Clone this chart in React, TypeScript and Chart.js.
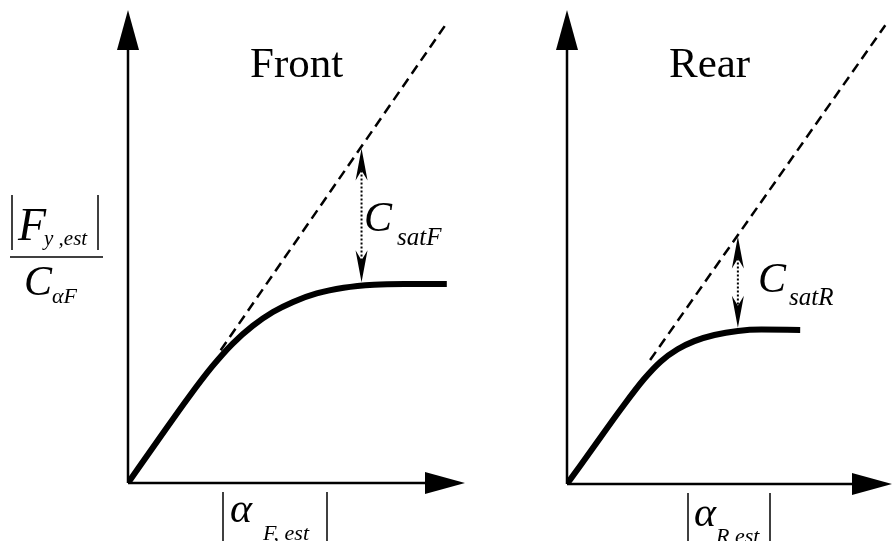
import React, { useEffect, useRef } from "react";
import { Chart, registerables } from "chart.js";

Chart.register(...registerables);

const W = 894;
const H = 541;
const SERIF = '"Liberation Serif", "DejaVu Serif", serif';

// Front tyre: |slip angle| against normalised |lateral force|
const frontSlip = [0, 0.9, 1.8, 2.5, 3.1, 3.7, 4.3, 4.9, 5.6, 6.4, 7.3, 8.2, 9.46];
const frontForce = [0, 1.28, 2.54, 3.45, 4.12, 4.65, 5.06, 5.36, 5.61, 5.78, 5.87, 5.89, 5.89];
// linear (cornering-stiffness) extension
const frontLinearSlip = [2.75, 9.45];
const frontLinearForce = [3.93, 13.6];
// saturation gap: slip, curve value, linear value
const frontSat = [6.93, 5.85, 9.9];

// Rear tyre
const rearSlip = [0, 0.8, 1.6, 2.3, 2.8, 3.3, 3.8, 4.4, 5.1, 5.8, 6.96];
const rearForce = [0, 1.1, 2.2, 3.1, 3.62, 3.98, 4.22, 4.4, 4.52, 4.56, 4.55];
const rearLinearSlip = [2.48, 9.5];
const rearLinearForce = [3.66, 13.55];
const rearSat = [5.1, 4.53, 7.31];

type Part = { text: string; x: number; y: number; size: number; italic?: boolean };
type Bar = { x: number; y1: number; y2: number };
type Rule = { x1: number; x2: number; y: number };

type PanelDecor = {
  sat: number[];
  parts: Part[];
  bars: Bar[];
  rules: Rule[];
};

function drawText(ctx: CanvasRenderingContext2D, p: Part) {
  ctx.font = `${p.italic ? "italic " : ""}${p.size}px ${SERIF}`;
  ctx.fillStyle = "#000";
  ctx.textAlign = "left";
  ctx.textBaseline = "alphabetic";
  ctx.fillText(p.text, p.x, p.y);
}

function stealthHead(ctx: CanvasRenderingContext2D, x: number, tip: number, dir: number) {
  // dir = +1: head points up (body below tip), -1: head points down
  ctx.beginPath();
  ctx.moveTo(x, tip);
  ctx.lineTo(x + 6, tip + dir * 32);
  ctx.lineTo(x, tip + dir * 22);
  ctx.lineTo(x - 6, tip + dir * 32);
  ctx.closePath();
  ctx.fill();
}

function makePlugin(decor: PanelDecor) {
  return {
    id: "panelDecor",
    beforeDatasetsDraw(chart: any) {
      const ctx: CanvasRenderingContext2D = chart.ctx;
      const { chartArea } = chart;
      const xs = chart.scales.x;
      const ys = chart.scales.y;
      const ox = xs.getPixelForValue(0);
      const oy = ys.getPixelForValue(0);
      ctx.save();
      ctx.strokeStyle = "#000";
      ctx.fillStyle = "#000";
      ctx.lineWidth = 2.5;
      // vertical axis
      ctx.beginPath();
      ctx.moveTo(ox, oy);
      ctx.lineTo(ox, chartArea.top + 38);
      ctx.stroke();
      ctx.beginPath();
      ctx.moveTo(ox, chartArea.top);
      ctx.lineTo(ox + 11, chartArea.top + 40);
      ctx.lineTo(ox - 11, chartArea.top + 40);
      ctx.closePath();
      ctx.fill();
      // horizontal axis
      ctx.beginPath();
      ctx.moveTo(ox, oy);
      ctx.lineTo(chartArea.right - 38, oy);
      ctx.stroke();
      ctx.beginPath();
      ctx.moveTo(chartArea.right, oy);
      ctx.lineTo(chartArea.right - 40, oy - 11);
      ctx.lineTo(chartArea.right - 40, oy + 11);
      ctx.closePath();
      ctx.fill();
      ctx.restore();
    },
    afterDatasetsDraw(chart: any) {
      const ctx: CanvasRenderingContext2D = chart.ctx;
      const xs = chart.scales.x;
      const ys = chart.scales.y;
      ctx.save();
      // saturation gap arrow
      const [sx, from, to] = decor.sat;
      const px = xs.getPixelForValue(sx);
      const yTop = ys.getPixelForValue(to);
      const yBot = ys.getPixelForValue(from) - 3;
      ctx.strokeStyle = "#000";
      ctx.fillStyle = "#000";
      ctx.lineWidth = 2;
      ctx.setLineDash([2, 2]);
      ctx.beginPath();
      ctx.moveTo(px, yTop + 22);
      ctx.lineTo(px, yBot - 22);
      ctx.stroke();
      ctx.setLineDash([]);
      stealthHead(ctx, px, yTop, 1);
      stealthHead(ctx, px, yBot, -1);
      // absolute-value bars and fraction rules
      ctx.lineWidth = 1.5;
      decor.bars.forEach((b) => {
        ctx.beginPath();
        ctx.moveTo(b.x, b.y1);
        ctx.lineTo(b.x, b.y2);
        ctx.stroke();
      });
      decor.rules.forEach((r) => {
        ctx.beginPath();
        ctx.moveTo(r.x1, r.y);
        ctx.lineTo(r.x2, r.y);
        ctx.stroke();
      });
      decor.parts.forEach((p) => drawText(ctx, p));
      ctx.restore();
    },
  };
}

function toPoints(xs: number[], ys: number[]) {
  return xs.map((x, i) => ({ x, y: ys[i] }));
}

function buildConfig(
  slip: number[],
  force: number[],
  linSlip: number[],
  linForce: number[],
  xMax: number,
  padding: { left: number; right: number; top: number; bottom: number },
  decor: PanelDecor
): any {
  return {
    type: "line",
    data: {
      datasets: [
        {
          data: toPoints(slip, force),
          borderColor: "#000",
          borderWidth: 6,
          pointRadius: 0,
          cubicInterpolationMode: "monotone",
          borderCapStyle: "butt",
          fill: false,
        },
        {
          data: toPoints(linSlip, linForce),
          borderColor: "#000",
          borderWidth: 2.5,
          borderDash: [10, 6],
          pointRadius: 0,
          fill: false,
        },
      ],
    },
    options: {
      responsive: false,
      animation: false,
      events: [],
      layout: { padding },
      plugins: { legend: { display: false }, tooltip: { enabled: false } },
      scales: {
        x: { type: "linear", min: 0, max: xMax, display: false },
        y: { type: "linear", min: 0, max: 14, display: false },
      },
    },
    plugins: [makePlugin(decor)],
  };
}

const frontDecor: PanelDecor = {
  sat: frontSat,
  parts: [
    { text: "Front", x: 250, y: 77, size: 43 },
    { text: "F", x: 18, y: 240, size: 46, italic: true },
    { text: "y ,est", x: 44, y: 245, size: 21, italic: true },
    { text: "C", x: 24, y: 295, size: 42, italic: true },
    { text: "αF", x: 52, y: 303, size: 22, italic: true },
    { text: "α", x: 230, y: 522, size: 42, italic: true },
    { text: "F, est", x: 263, y: 540, size: 22, italic: true },
    { text: "C", x: 364, y: 231, size: 42, italic: true },
    { text: "satF", x: 397, y: 245, size: 25, italic: true },
  ],
  bars: [
    { x: 12, y1: 195, y2: 250 },
    { x: 98, y1: 195, y2: 250 },
    { x: 223, y1: 492, y2: 541 },
    { x: 327, y1: 492, y2: 541 },
  ],
  rules: [{ x1: 10, x2: 103, y: 257 }],
};

const rearDecor: PanelDecor = {
  sat: rearSat,
  parts: [
    { text: "Rear", x: 669, y: 77, size: 43 },
    { text: "α", x: 694, y: 526, size: 42, italic: true },
    { text: "R,est", x: 716, y: 543, size: 22, italic: true },
    { text: "C", x: 758, y: 292, size: 42, italic: true },
    { text: "satR", x: 789, y: 305, size: 25, italic: true },
  ],
  bars: [
    { x: 688, y1: 493, y2: 541 },
    { x: 770, y1: 493, y2: 541 },
  ],
  rules: [],
};

export default function App() {
  const frontRef = useRef<HTMLCanvasElement>(null);
  const rearRef = useRef<HTMLCanvasElement>(null);

  useEffect(() => {
    const front = new Chart(
      frontRef.current as HTMLCanvasElement,
      buildConfig(
        frontSlip,
        frontForce,
        frontLinearSlip,
        frontLinearForce,
        10,
        { left: 128, right: W - 465, top: 10, bottom: H - 483 },
        frontDecor
      )
    );
    const rear = new Chart(
      rearRef.current as HTMLCanvasElement,
      buildConfig(
        rearSlip,
        rearForce,
        rearLinearSlip,
        rearLinearForce,
        9.7,
        { left: 567, right: W - 892, top: 10, bottom: H - 484 },
        rearDecor
      )
    );
    return () => {
      front.destroy();
      rear.destroy();
    };
  }, []);

  const canvasStyle: React.CSSProperties = {
    position: "absolute",
    left: 0,
    top: 0,
    width: W,
    height: H,
  };

  return (
    <div
      style={{
        position: "fixed",
        left: 0,
        top: 0,
        width: W,
        height: H,
        background: "#fff",
        overflow: "hidden",
      }}
    >
      <canvas ref={frontRef} width={W} height={H} style={canvasStyle} />
      <canvas ref={rearRef} width={W} height={H} style={canvasStyle} />
    </div>
  );
}
